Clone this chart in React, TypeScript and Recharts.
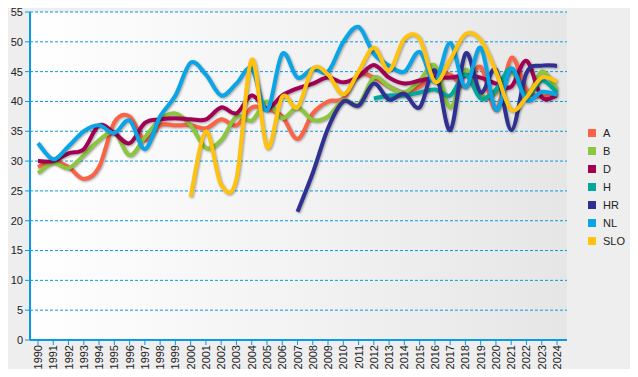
import React from 'react';
import { LineChart, Line, XAxis, YAxis, CartesianGrid } from 'recharts';

// x-axis categories
const YEARS = [
  '1990', '1991', '1992', '1993', '1994', '1995', '1996', '1997', '1998', '1999',
  '2000', '2001', '2002', '2003', '2004', '2005', '2006', '2007', '2008', '2009',
  '2010', '2011', '2012', '2013', '2014', '2015', '2016', '2017', '2018', '2019',
  '2020', '2021', '2022', '2023', '2024',
];

const Y_TICKS = [0, 5, 10, 15, 20, 25, 30, 35, 40, 45, 50, 55];

// series values, one per year (null = no data yet)
const A = [29, 30, 29, 27, 29, 36.5, 37.5, 33.5, 36, 36, 36, 35.5, 37, 36, 39, 38.7, 37.5, 33.7, 38, 40, 40.5, 44.5, 44, 42.5, 41.5, 42.5, 44.5, 44.5, 42.5, 45.8, 38.6, 47.3, 42, 40.8, 41.5];
const B = [28, 29.7, 28.8, 31, 33.5, 34.8, 31, 34, 37, 38, 36, 32.2, 33.5, 37.5, 36.8, 40, 37.2, 39, 36.9, 37.5, 40.2, 39.5, 44, 42.5, 41.5, 43.5, 46, 39, 45.3, 41, 41.5, 45, 41, 45, 42];
const D = [30, 30, 31.3, 32, 36, 34.7, 33, 36.4, 37, 37.2, 37, 37, 39, 38, 41, 38.8, 41, 42.2, 43, 44, 43.2, 44.2, 46.1, 44, 43, 43.5, 44, 44, 44.4, 44, 43, 42.5, 46.8, 40.7, 41];
const H = [null, null, null, null, null, null, null, null, null, null, null, null, null, null, null, null, null, null, null, null, null, null, 40.5, 41, 41, 41.5, 42, 41, 44.5, 40.5, 42, 45.5, 41, 43.5, 41.5];
const HR = [null, null, null, null, null, null, null, null, null, null, null, null, null, null, null, null, null, 21.5, 28, 35.5, 40, 39.3, 43, 40.3, 41.3, 39, 45.2, 35.2, 48, 41.5, 45.3, 35.2, 44.8, 46, 46];
const NL = [33, 30.3, 32.5, 35, 36, 34.7, 36.8, 32, 37.5, 41, 46.5, 44.5, 41, 43, 45.5, 38.5, 48, 44, 45.5, 45, 50, 52.5, 48, 46, 45, 48.3, 43.3, 49.8, 42.4, 49, 38.6, 45.5, 40.2, 41.6, 41.1];
const SLO = [null, null, null, null, null, null, null, null, null, null, 24, 35, 26, 27, 47, 32.3, 40.8, 39, 45.5, 44.5, 41.2, 45, 49, 45.2, 50.5, 50.5, 43.3, 47, 51.3, 50.3, 45, 38.6, 40.7, 44, 43.3];

const SERIES = [
  { key: 'A', values: A, color: '#fa6346' },
  { key: 'B', values: B, color: '#8cc63e' },
  { key: 'D', values: D, color: '#a10053' },
  { key: 'H', values: H, color: '#00a99d' },
  { key: 'HR', values: HR, color: '#2e3192' },
  { key: 'NL', values: NL, color: '#0aa5e6' },
  { key: 'SLO', values: SLO, color: '#ffc20e' },
];

const AXIS_COLOR = '#0a9be0';
const FONT = '"Liberation Sans", Arial, sans-serif';

const data = YEARS.map((year, i) => {
  const row: Record<string, string | number | null> = { year };
  SERIES.forEach((s) => {
    row[s.key] = s.values[i];
  });
  return row;
});

/** Catmull-Rom style smoothing, passed to recharts as a d3 curve factory. */
function smoothCurve(context: any) {
  let pts: number[][] = [];
  return {
    areaStart() {},
    areaEnd() {},
    lineStart() {
      pts = [];
    },
    point(x: number, y: number) {
      pts.push([+x, +y]);
    },
    lineEnd() {
      if (!pts.length) return;
      context.moveTo(pts[0][0], pts[0][1]);
      for (let i = 0; i < pts.length - 1; i++) {
        const p0 = pts[i - 1] || pts[i];
        const p1 = pts[i];
        const p2 = pts[i + 1];
        const p3 = pts[i + 2] || p2;
        context.bezierCurveTo(
          p1[0] + (p2[0] - p0[0]) / 6,
          p1[1] + (p2[1] - p0[1]) / 6,
          p2[0] - (p3[0] - p1[0]) / 6,
          p2[1] - (p3[1] - p1[1]) / 6,
          p2[0],
          p2[1],
        );
      }
    },
  };
}

function YearTick({ x, y, payload }: any) {
  return (
    <g transform={`translate(${x},${y - 2}) rotate(-90)`}>
      <text x={0} y={0} dy={4} textAnchor="end" fontSize={11} fontFamily={FONT} fill="#222">
        {payload.value}
      </text>
    </g>
  );
}

export default function App() {
  return (
    <div style={{ position: 'relative', width: 638, height: 377, margin: -8, background: '#eeeeee', overflow: 'hidden' }}>
      <style>{`.recharts-line-curve { filter: drop-shadow(1.5px 1.5px 0.8px rgba(0,0,0,0.35)); }`}</style>
      <svg width={0} height={0} style={{ position: 'absolute' }}>
        <defs>
          <linearGradient id="plotBg" x1="0" y1="0" x2="1" y2="0">
            <stop offset="0%" stopColor="#ffffff" />
            <stop offset="100%" stopColor="#e6e6e6" />
          </linearGradient>
        </defs>
      </svg>
      <LineChart width={638} height={377} data={data} margin={{ top: 12, right: 71, bottom: 0, left: 0 }}>
        <CartesianGrid
          vertical={false}
          stroke={AXIS_COLOR}
          strokeDasharray="3 2"
          fill="url(#plotBg)"
          fillOpacity={1}
        />
        <XAxis
          dataKey="year"
          height={37}
          interval={0}
          padding={{ left: 8, right: 10 }}
          axisLine={{ stroke: AXIS_COLOR, strokeWidth: 2 }}
          tickLine={{ stroke: AXIS_COLOR }}
          tickSize={5}
          tick={<YearTick />}
        />
        <YAxis
          width={30}
          domain={[0, 55]}
          ticks={Y_TICKS}
          interval={0}
          axisLine={{ stroke: AXIS_COLOR, strokeWidth: 2 }}
          tickLine={{ stroke: AXIS_COLOR }}
          tickSize={5}
          tick={{ fontSize: 11, fontFamily: FONT, fill: '#222' }}
        />
        {SERIES.map((s) => (
          <Line
            key={s.key}
            dataKey={s.key}
            type={smoothCurve as any}
            stroke={s.color}
            strokeWidth={4}
            dot={false}
            activeDot={false}
            isAnimationActive={false}
          />
        ))}
      </LineChart>
      <div style={{ position: 'absolute', left: 588, top: 124, fontFamily: FONT, fontSize: 11, color: '#222' }}>
        {SERIES.map((s) => (
          <div key={s.key} style={{ display: 'flex', alignItems: 'center', height: 18 }}>
            <span style={{ display: 'inline-block', width: 8, height: 8, background: s.color, marginRight: 7 }} />
            <span>{s.key}</span>
          </div>
        ))}
      </div>
    </div>
  );
}
